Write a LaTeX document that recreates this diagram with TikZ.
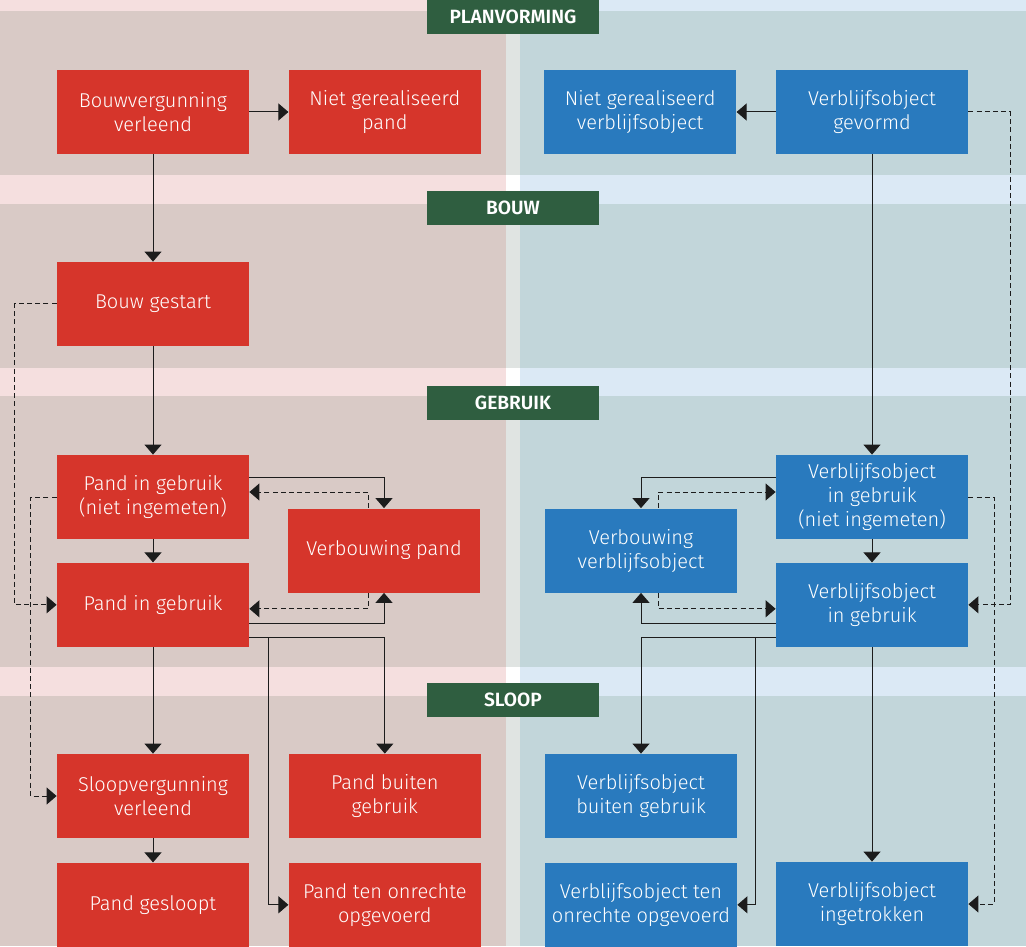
\documentclass[tikz,border=0pt]{standalone}
\usepackage{fontspec}
\setmainfont{Fira Sans}[UprightFont={* Light},BoldFont={* SemiBold}]
\usepackage{xcolor}
\usepackage{tikz}
\usetikzlibrary{arrows.meta,positioning,calc}
\definecolor{bagred}{RGB}{214,53,43}
\definecolor{bagblue}{RGB}{41,122,190}
\definecolor{baggreen}{RGB}{47,94,64}
\definecolor{leftbg}{RGB}{217,202,198}
\definecolor{leftband}{RGB}{245,223,223}
\definecolor{rightbg}{RGB}{194,214,218}
\definecolor{rightband}{RGB}{219,233,245}
\definecolor{midstrip}{RGB}{224,228,226}
\definecolor{bagline}{RGB}{28,28,28}

\begin{document}
\begin{tikzpicture}[
  x=0.5pt, y=-0.5pt,
  font=\fontsize{10}{12}\selectfont,
  arrow/.style={-{Triangle[length=5pt,width=8.5pt]}, line width=0.5pt, draw=bagline},
  dasharrow/.style={arrow, dash pattern=on 2.5pt off 1.6pt},
  box/.style={rectangle, minimum width=96pt, minimum height=42pt,
              inner sep=0pt, align=center, text=white},
  redbox/.style={box, fill=bagred},
  bluebox/.style={box, fill=bagblue},
  phase/.style={rectangle, fill=baggreen, text=white, minimum width=86pt,
                minimum height=17pt, inner sep=0pt,
                font=\fontsize{9.6}{10}\selectfont\bfseries}
]
\useasboundingbox (0,0) rectangle (1026,946);

% --- Background panels and phase bands ---
\fill[leftbg] (0,0) rectangle (506,946);
\fill[midstrip] (506,0) rectangle (520,946);
\fill[rightbg] (520,0) rectangle (1026,946);
\foreach \ytop/\ybot in {-16/11, 175/204, 368/396, 667/696} {
  \fill[leftband] (0,\ytop) rectangle (506,\ybot);
  \fill[white] (506,\ytop) rectangle (520,\ybot);
  \fill[rightband] (520,\ytop) rectangle (1026,\ybot);
}

% --- Phase labels ---
\node[phase] (planvorming) at (513,17) {PLANVORMING};
\node[phase] (bouw) at (513,208) {BOUW};
\node[phase] (gebruik) at (513,403) {GEBRUIK};
\node[phase] (sloop) at (513,700) {SLOOP};

% --- Pand (left) ---
\node[redbox] (bvg) at (153,112) {Bouwvergunning\\verleend};
\node[redbox, right=19.5pt of bvg] (ngp) {Niet gerealiseerd\\pand};
\node[redbox] (bst) at (153,304) {Bouw gestart};
\node[redbox] (pgn) at (153,497) {Pand in gebruik\\(niet ingemeten)};
\node[redbox, below=11.5pt of pgn] (pig) {Pand in gebruik};
\node[redbox] (vbp) at (384,550.5) {Verbouwing pand};
\node[redbox] (svg) at (153,796) {Sloopvergunning\\verleend};
\node[redbox, right=19.5pt of svg] (pbg) {Pand buiten\\gebruik};
\node[redbox, below=12pt of svg] (pgs) {Pand gesloopt};
\node[redbox, right=19.5pt of pgs] (pto) {Pand ten onrechte\\opgevoerd};

% --- Verblijfsobject (right) ---
\node[bluebox] (vgv) at (872,112) {Verblijfsobject\\gevormd};
\node[bluebox, left=19.5pt of vgv] (ngv) {Niet gerealiseerd\\verblijfsobject};
\node[bluebox] (vgn) at (872,497) {Verblijfsobject\\in gebruik\\(niet ingemeten)};
\node[bluebox, below=11.5pt of vgn] (vig) {Verblijfsobject\\in gebruik};
\node[bluebox] (vbv) at (641,550.5) {Verbouwing\\verblijfsobject};
\node[bluebox] (vbg) at (641,796) {Verblijfsobject\\buiten gebruik};
\node[bluebox, below=12pt of vbg] (vto) {Verblijfsobject ten\\onrechte opgevoerd};
\node[bluebox] (vit) at (872,904) {Verblijfsobject\\ingetrokken};

% --- Arrows pand ---
\draw[arrow] (bvg) -- (ngp);
\draw[arrow] (bvg) -- (bst);
\draw[arrow] (bst) -- (pgn);
\draw[arrow] (pgn) -- (pig);
\draw[arrow] (pig) -- (svg);
\draw[arrow] (svg) -- (pgs);
\draw[dasharrow] (bst.west) -- ++(-42,0) |- (pig.west);
\draw[dasharrow] (pgn.west) -- ++(-26,0) |- (svg.west);
\draw[arrow] ($(pgn.east)+(0,-20)$) -| (vbp.north);
\draw[dasharrow] ($(vbp.north)+(-16,0)$) |- ($(pgn.east)+(0,-5)$);
\draw[dasharrow] ($(vbp.south)+(-16,0)$) |- ($(pig.east)+(0,4)$);
\draw[arrow] ($(pig.east)+(0,19)$) -| (vbp.south);
\draw[arrow] ($(pig.east)+(0,33)$) -| (pbg.north);
\draw[arrow] ($(pig.east)+(19,33)$) |- (pto.west);

% --- Arrows verblijfsobject ---
\draw[arrow] (vgv) -- (ngv);
\draw[arrow] (vgv) -- (vgn);
\draw[arrow] (vgn) -- (vig);
\draw[arrow] (vig) -- (vit);
\draw[dasharrow] (vgv.east) -- ++(42,0) |- (vig.east);
\draw[dasharrow] (vgn.east) -- ++(26,0) |- (vit.east);
\draw[arrow] ($(vgn.west)+(0,-20)$) -| (vbv.north);
\draw[dasharrow] ($(vbv.north)+(17,0)$) |- ($(vgn.west)+(0,-5)$);
\draw[dasharrow] ($(vbv.south)+(17,0)$) |- ($(vig.west)+(0,4)$);
\draw[arrow] ($(vig.west)+(0,19)$) -| (vbv.south);
\draw[arrow] ($(vig.west)+(0,33)$) -| (vbg.north);
\draw[arrow] ($(vig.west)+(-20,33)$) |- (vto.east);

\end{tikzpicture}
\end{document}
